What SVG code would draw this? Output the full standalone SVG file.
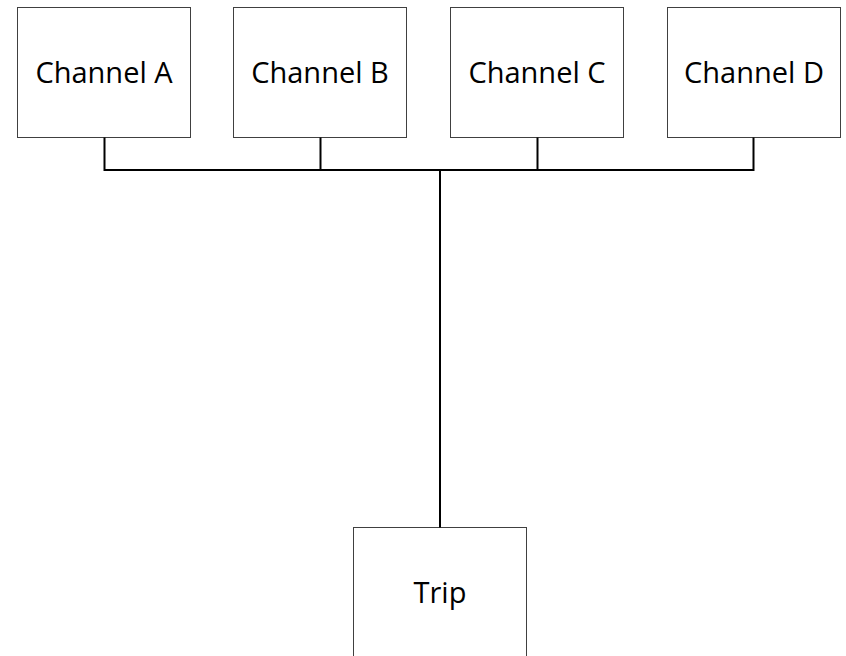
<svg xmlns="http://www.w3.org/2000/svg" width="846" height="656" viewBox="0 0 846 656">
  <style>
    .box { fill: #ffffff; stroke: #404040; stroke-width: 1; }
    .label { font-family: "Open Sans", "Liberation Sans", sans-serif; font-size: 29px; fill: #000000; text-anchor: middle; }
    .wire { fill: none; stroke: #000000; stroke-width: 2; }
  </style>
  <rect width="846" height="656" fill="#ffffff"/>

  <g id="channel-a">
    <rect class="box" x="17.5" y="7.5" width="173" height="130"/>
    <text class="label" x="104" y="83">Channel A</text>
  </g>
  <g id="channel-b">
    <rect class="box" x="233.5" y="7.5" width="173" height="130"/>
    <text class="label" x="320" y="83">Channel B</text>
  </g>
  <g id="channel-c">
    <rect class="box" x="450.5" y="7.5" width="173" height="130"/>
    <text class="label" x="537" y="83">Channel C</text>
  </g>
  <g id="channel-d">
    <rect class="box" x="667.5" y="7.5" width="173" height="130"/>
    <text class="label" x="754" y="83">Channel D</text>
  </g>
  <g id="trip">
    <rect class="box" x="353.5" y="527.5" width="173" height="140"/>
    <text class="label" x="440" y="603">Trip</text>
  </g>

  <g id="connectors">
    <path class="wire" d="M104.5 137.5 V170 H753.5 V137.5"/>
    <path class="wire" d="M320.5 137.5 V170"/>
    <path class="wire" d="M537.5 137.5 V170"/>
    <path class="wire" d="M440 170 V527.5"/>
  </g>
</svg>
